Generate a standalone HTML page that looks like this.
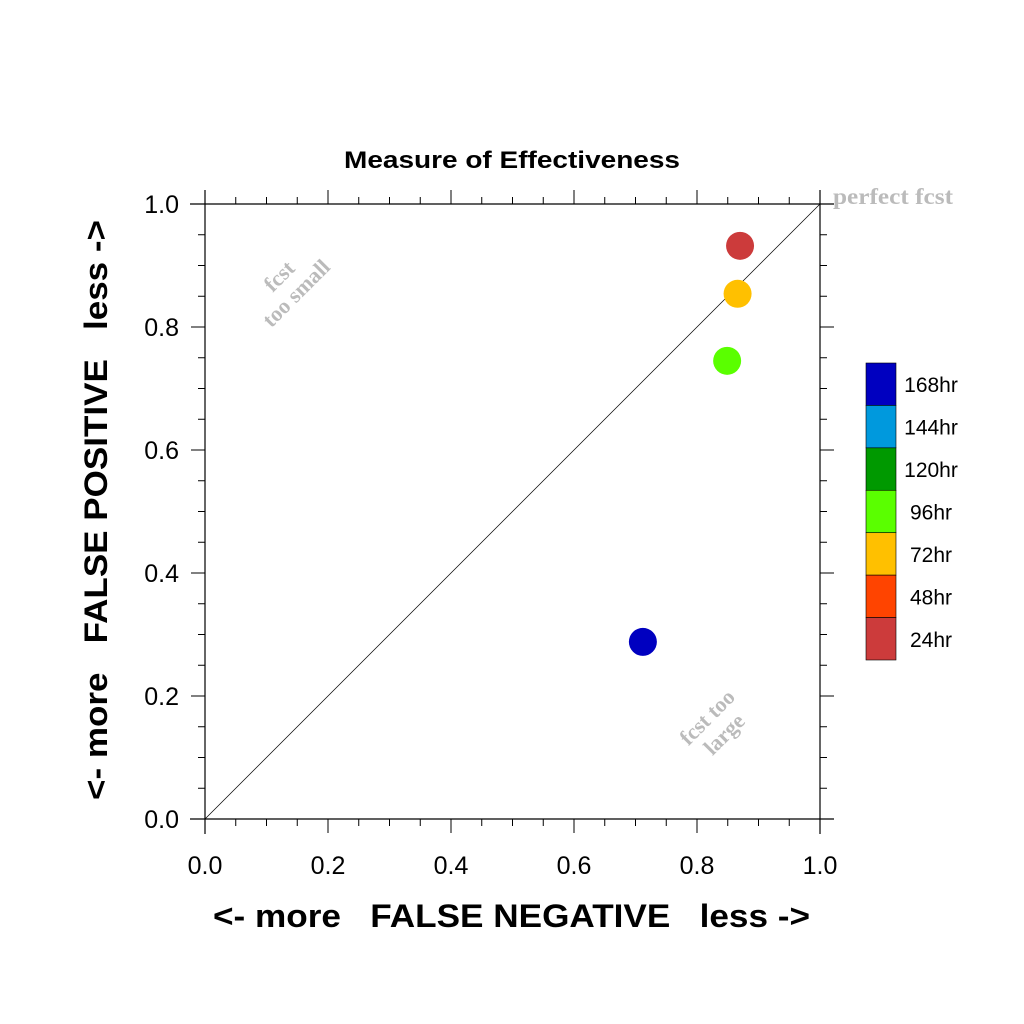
<!DOCTYPE html>
<html><head><meta charset="utf-8"><style>
body{margin:0;background:#fff;}
svg{display:block;font-family:"Liberation Sans",sans-serif;}
</style></head><body>
<svg id="chart" width="1024" height="1024" xmlns="http://www.w3.org/2000/svg">
<rect width="1024" height="1024" fill="#fff"/>
<text x="344" y="168" font-size="24" font-weight="bold" textLength="336" lengthAdjust="spacingAndGlyphs">Measure of Effectiveness</text>
<g id="axes"></g>
<line x1="205" y1="819" x2="820" y2="204" stroke="#000" stroke-width="0.7"/>
<text x="833" y="204" font-family="Liberation Serif,serif" font-weight="bold" font-size="23" fill="#bbb" textLength="120" lengthAdjust="spacingAndGlyphs">perfect fcst</text>
<g transform="translate(290,287) rotate(-45)" font-family="Liberation Serif,serif" font-weight="bold" font-size="22" fill="#bbb" text-anchor="middle">
<text x="0" y="-8">fcst</text><text x="0" y="16">too small</text></g>
<g transform="translate(718,728) rotate(-45)" font-family="Liberation Serif,serif" font-weight="bold" font-size="22" fill="#bbb" text-anchor="middle">
<text x="0" y="-8">fcst too</text><text x="0" y="16">large</text></g>
<text x="213" y="927" font-size="32" font-weight="bold" xml:space="preserve" textLength="597" lengthAdjust="spacingAndGlyphs">&lt;- more   FALSE NEGATIVE   less -&gt;</text>
<text transform="translate(107,800) rotate(-90)" font-size="32" font-weight="bold" xml:space="preserve" textLength="580" lengthAdjust="spacingAndGlyphs">&lt;- more   FALSE POSITIVE   less -&gt;</text>
<g id="points"></g>
<g id="legend"></g>
</svg>
<script>
const leadLabels = ["24hr","72hr","96hr","168hr"];
const falseNeg = [0.870, 0.866, 0.849, 0.712];
const falsePos = [0.932, 0.854, 0.745, 0.288];
const pointColors = ["#cc3b3b","#ffc000","#5aff00","#0000c0"];
const ticks = [0, 0.2, 0.4, 0.6, 0.8, 1.0];
const tickLabels = ["0.0","0.2","0.4","0.6","0.8","1.0"];
const legendLabels = ["168hr","144hr","120hr","96hr","72hr","48hr","24hr"];
const legendColors = ["#0000c0","#0099dd","#009900","#5aff00","#ffc000","#ff4400","#cc3b3b"];

const NS="http://www.w3.org/2000/svg";
const X0=205,X1=820,Y0=819,Y1=204;
const sx=v=>X0+v*(X1-X0);
const sy=v=>Y0-v*(Y0-Y1);
function mk(tag,attrs,parent){const e=document.createElementNS(NS,tag);for(const k in attrs)e.setAttribute(k,attrs[k]);parent.appendChild(e);return e;}
const axes=document.getElementById('axes');
let l;
l=mk('line',{x1:190,y1:Y1,x2:834,y2:Y1,stroke:'#000','stroke-width':1.2},axes);


l=mk('line',{x1:190,y1:Y0,x2:834,y2:Y0,stroke:'#000','stroke-width':1.2},axes);


l=mk('line',{x1:X0,y1:190,x2:X0,y2:834,stroke:'#000','stroke-width':1.2},axes);


l=mk('line',{x1:X1,y1:190,x2:X1,y2:834,stroke:'#000','stroke-width':1.2},axes);


for(let i=1;i<20;i++){
  const v=i/20; const major=(i%4===0); const len=major?14:7;
  const x=sx(v), y=sy(v);
  for(const [a,b,c,d] of [[x,Y0,x,Y0+len],[x,Y1,x,Y1-len],[X0,y,X0-len,y],[X1,y,X1+len,y]]){
    const t=mk('line',{x1:a,y1:b,x2:c,y2:d,stroke:'#000','stroke-width':1},axes);
    
    
  }
}
ticks.forEach((v,i)=>{
  const tx=mk('text',{x:sx(v),y:874,'text-anchor':'middle','font-size':25},axes);
  tx.textContent=tickLabels[i];
  
  
  const ty=mk('text',{x:179,y:sy(v)+9,'text-anchor':'end','font-size':25},axes);
  ty.textContent=tickLabels[i];
  
  
});
const pts=document.getElementById('points');
falseNeg.forEach((v,i)=>{
  const c=mk('circle',{cx:sx(v),cy:sy(falsePos[i]),r:14,fill:pointColors[i]},pts);
  
  
});
const lg=document.getElementById('legend');
const bh=(660-363)/legendLabels.length;
legendLabels.forEach((lab,i)=>{
  const y=363+i*bh;
  const r=mk('rect',{x:866,y:y,width:30,height:bh,fill:legendColors[i],stroke:'#000','stroke-width':0.6},lg);
  
  
  const t=mk('text',{x:931,y:y+bh/2+8,'text-anchor':'middle','font-size':21},lg);
  t.textContent=lab;
  
  
});
</script>
</body></html>
